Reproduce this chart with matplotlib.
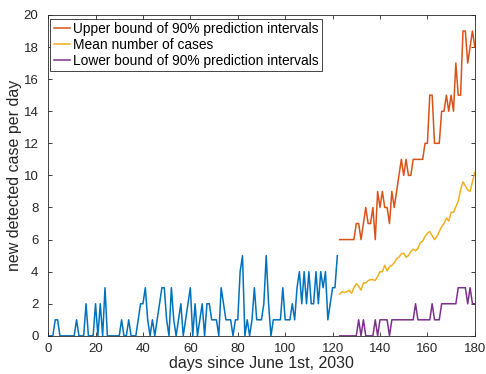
import matplotlib
matplotlib.use('Agg')
import matplotlib.pyplot as plt
import numpy as np

plt.rcParams['font.family'] = ['Liberation Sans', 'DejaVu Sans']

# ---------------- observed daily cases (days 0..122) ---------------- #
obs_days = np.arange(0, 123)
obs_cases = [0, 0, 0, 1, 1, 0, 0, 0, 0, 0,
             0, 0, 1, 0, 0, 0, 2, 0, 0, 0,
             2, 0, 2, 0, 3, 0, 0, 0, 0, 0,
             0, 1, 0, 0, 1, 0, 0, 0, 1, 2,
             2, 3, 1, 0, 1, 0, 1, 2, 3, 3,
             1, 0, 3, 1, 0, 1, 2, 0, 1, 2,
             3, 0, 2, 0, 1, 2, 0, 2, 2, 1,
             1, 1, 0, 3, 2, 1, 1, 1, 0, 1,
             1, 4, 5, 0, 1, 0, 1, 3, 1, 1,
             1, 2, 5, 2, 0, 1, 1, 1, 1, 3,
             1, 1, 1, 2, 1, 3, 4, 2, 4, 2,
             4, 2, 2, 4, 2, 4, 3, 4, 1, 2,
             3, 3, 5]

# ---------------- forecast (days 123..180) ---------------- #
pred_days = np.arange(123, 181)
upper = [6, 6, 6, 6, 6, 6, 6, 7, 7, 6,
         7, 8, 7, 7, 8, 6, 9, 8, 9, 8,
         8, 7, 9, 8, 9, 10, 11, 10, 11, 10,
         10, 11, 11, 11, 11, 11, 12, 12, 15, 15,
         12, 12, 12, 14, 14, 15, 14, 15, 14, 17,
         15, 15, 19, 19, 17, 18, 19, 18]
mean = [2.6, 2.75, 2.7, 2.75, 2.85, 2.65, 3.0, 3.25, 3.1, 2.85,
        3.3, 3.3, 3.45, 3.5, 3.5, 3.45, 3.7, 4.0, 4.0, 4.4,
        4.05, 4.3, 4.4, 4.55, 4.8, 4.9, 5.1, 5.15, 4.9, 5.0,
        5.25, 5.4, 5.3, 5.45, 5.8, 5.9, 6.2, 6.4, 6.5, 6.25,
        6.0, 6.2, 6.5, 6.8, 7.0, 7.35, 7.15, 7.7, 7.7, 8.05,
        8.4, 9.1, 9.6, 9.35, 9.1, 9.0, 9.6, 10.2]
lower = [0, 0, 0, 0, 0, 0, 0, 0, 1, 0,
         1, 0, 0, 0, 0, 1, 0, 1, 1, 1,
         1, 0, 1, 1, 1, 1, 1, 1, 1, 1,
         1, 1, 2, 1, 1, 1, 1, 1, 1, 2,
         1, 1, 1, 2, 2, 2, 2, 2, 2, 2,
         3, 3, 3, 3, 2, 3, 2, 2]

# MATLAB default colour order
c_blue, c_orange, c_yellow, c_purple = '#0072BD', '#D95319', '#EDB120', '#7E2F8E'
axcol = '#262626'

fig = plt.figure(figsize=(4.86, 3.74), dpi=100)
ax = fig.add_axes([0.099, 0.102, 0.878, 0.858])

ax.plot(obs_days, obs_cases, color=c_blue, lw=1.1)
ax.plot(pred_days, upper, color=c_orange, lw=1.1, label='Upper bound of 90% prediction intervals')
ax.plot(pred_days, mean, color=c_yellow, lw=1.1, label='Mean number of cases')
ax.plot(pred_days, lower, color=c_purple, lw=1.1, label='Lower bound of 90% prediction intervals')

ax.set_xlim(0, 180)
ax.set_ylim(0, 20)
ax.set_xticks(np.arange(0, 181, 20))
ax.set_yticks(np.arange(0, 21, 2))
ax.tick_params(direction='in', length=3, width=0.6, top=True, right=True,
               labelsize=9.5, colors=axcol)
ax.tick_params(axis='y', pad=7)
ax.tick_params(axis='x', pad=5)
for s in ax.spines.values():
    s.set_color(axcol)
    s.set_linewidth(0.6)

ax.set_xlabel('days since June 1st, 2030', fontsize=11.5, color=axcol, labelpad=1)
ax.set_ylabel('new detected case per day', fontsize=11.5, color=axcol, labelpad=1)

leg = ax.legend(loc='upper left', bbox_to_anchor=(0.005, 0.988), borderaxespad=0,
                fontsize=9.9, handlelength=1.2, handletextpad=0.2, borderpad=0.25,
                labelspacing=0.12, fancybox=False, framealpha=1, edgecolor=axcol)
leg.get_frame().set_linewidth(0.6)

fig.savefig('out.png', dpi=100)
